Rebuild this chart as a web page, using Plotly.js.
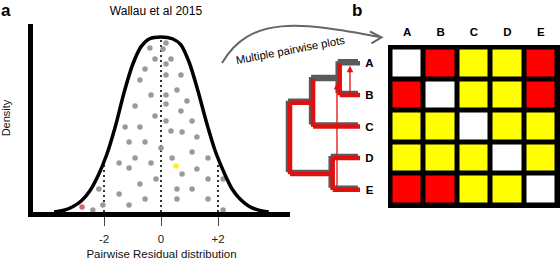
<!DOCTYPE html>
<html><head><meta charset="utf-8">
<script src="https://cdn.plot.ly/plotly-3.0.1.min.js"></script>
<style>html,body{margin:0;padding:0;background:#fff}#chart{width:560px;height:260px}</style>
</head><body><div id="chart"></div>
<script>
// ---- Panel a: pairwise residual distribution ----
const curveX = [-3.75,-3.4,-3.1,-2.8,-2.5,-2.2,-1.9,-1.6,-1.3,-1.0,-0.7,-0.4,0,0.4,0.7,1.0,1.3,1.6,1.9,2.2,2.5,2.8,3.1,3.4,3.78];
const curveY = [0,0.01,0.03,0.063,0.12,0.21,0.33,0.49,0.68,0.84,0.945,0.99,1.0,0.99,0.955,0.85,0.69,0.51,0.35,0.23,0.13,0.07,0.032,0.012,0];
const dotX = [-0.39,0.07,0.175,-0.21,0.175,0.35,-0.56,0.175,0.70,-0.74,-0.35,0.175,0.56,0.175,0.91,-0.91,0.70,-0.21,1.09,0.175,-1.26,-0.74,0.35,0.74,-1.12,-0.56,0,1.26,-0.91,-1.47,-0.35,-1.12,1.09,0.39,1.65,1.26,-0.175,-0.74,0.74,1.65,2.18,-2.18,-1.47,0.56,1.09,-0.56,0.56,1.65,-2.04,-1.12,-2.39,2.18];
const dotY = [0.937,0.931,0.966,0.874,0.846,0.874,0.817,0.783,0.783,0.754,0.669,0.669,0.697,0.617,0.634,0.606,0.577,0.549,0.52,0.52,0.486,0.486,0.463,0.457,0.40,0.40,0.366,0.429,0.309,0.28,0.28,0.251,0.343,0.309,0.309,0.246,0.189,0.16,0.217,0.189,0.189,0.131,0.103,0.131,0.131,0.074,0.074,0.074,0.04,0.04,0.011,0.011];
const redDotX = [-2.77], redDotY = [0.029];
const yellowDotX = [0.53], yellowDotY = [0.263];
const refX = [-2, 0, 2];
const refTop = [0.29, 0.99, 0.27];
const xTickVals = [-2, 0, 2];
const xTickText = ['-2', '0', '+2'];

// ---- Panel b: tree + pairwise matrix ----
const taxa = ['A','B','C','D','E'];
// 0 = self (white), 1 = yellow, 2 = red
const pairMatrix = [
  [0,2,1,1,2],
  [2,0,1,1,2],
  [1,1,0,1,1],
  [1,1,1,0,1],
  [2,2,1,1,0]
];
const treeNodes = ['root','ABC','AB','DE'];
const treeNodeDepth = [0, 0.33, 0.71, 0.61];
const treeParent = ['root','root','ABC','ABC','AB','AB','DE','DE'];
const treeChild  = ['ABC','DE','AB','C','A','B','D','E'];
const lostBranches = ['AB','A'];
const arrowX = [0.857, 0.671];
const arrowFrom = ['B','E'];
const arrowToY = [0.08, 0.62];

const FONT = 'Liberation Sans, Arial, sans-serif';
const W = 560, H = 260;
const px = v => v / W, py = v => 1 - v / H;

// tree geometry
const depth = {}, ypos = {};
treeNodes.forEach((n,i)=>depth[n]=treeNodeDepth[i]);
taxa.forEach((t,i)=>{depth[t]=1; ypos[t]=i;});
function getY(n){
  if (ypos[n] !== undefined) return ypos[n];
  const kids = treeChild.filter((c,i)=>treeParent[i]===n);
  const v = kids.map(getY).reduce((a,b)=>a+b,0)/kids.length;
  ypos[n] = v; return v;
}
treeNodes.forEach(getY);
const redX=[], redY=[], greyX=[], greyY=[], allX=[], allY=[];
treeNodes.forEach(n=>{
  const kids = treeChild.filter((c,i)=>treeParent[i]===n).map(c=>ypos[c]);
  const seg = [[depth[n],Math.min(...kids)],[depth[n],Math.max(...kids)]];
  redX.push(seg[0][0],seg[1][0],null); redY.push(seg[0][1],seg[1][1],null);
  allX.push(seg[0][0],seg[1][0],null); allY.push(seg[0][1],seg[1][1],null);
});
treeChild.forEach((c,i)=>{
  const p = treeParent[i];
  const xs=[depth[p],depth[c],null], ys=[ypos[c],ypos[c],null];
  if (lostBranches.includes(c)) { greyX.push(...xs); greyY.push(...ys); }
  else { redX.push(...xs); redY.push(...ys); }
  allX.push(...xs); allY.push(...ys);
});
const sdx = -2/70, sdy = -2/31.6;
const shX = allX.map(v=>v===null?null:v+sdx), shY = allY.map(v=>v===null?null:v+sdy);

const refLX=[], refLY=[];
refX.forEach((x,i)=>{refLX.push(x,x,null); refLY.push(0,refTop[i],null);});

const traces = [
  {type:'scatter', mode:'lines', x:refLX, y:refLY, xaxis:'x', yaxis:'y',
   line:{color:'#333', width:2, dash:'2px,3px'}, hoverinfo:'skip'},
  {type:'scatter', mode:'markers', x:dotX, y:dotY, xaxis:'x', yaxis:'y',
   marker:{color:'#9a9a9a', size:5.5}, hoverinfo:'skip'},
  {type:'scatter', mode:'markers', x:redDotX, y:redDotY, marker:{color:'#dc6470', size:5.5}, hoverinfo:'skip'},
  {type:'scatter', mode:'markers', x:yellowDotX, y:yellowDotY, marker:{color:'#ffee22', size:5.5}, hoverinfo:'skip'},
  {type:'scatter', mode:'lines', x:curveX, y:curveY, line:{color:'#000', width:3.5, shape:'spline', smoothing:0.8}, hoverinfo:'skip'},
  {type:'heatmap', z:pairMatrix, x:[0,1,2,3,4], y:[0,1,2,3,4], xaxis:'x2', yaxis:'y2',
   zmin:0, zmax:2, colorscale:[[0,'#ffffff'],[0.5,'#ffff00'],[1,'#ff0000']],
   showscale:false, xgap:5, ygap:5, hoverinfo:'skip'},
  {type:'scatter', mode:'lines', x:shX, y:shY, xaxis:'x3', yaxis:'y2',
   line:{color:'#5a5a5a', width:4.5}, hoverinfo:'skip'},
  {type:'scatter', mode:'lines', x:greyX, y:greyY, xaxis:'x3', yaxis:'y2',
   line:{color:'#5a5a5a', width:4.5}, hoverinfo:'skip'},
  {type:'scatter', mode:'lines', x:redX, y:redY, xaxis:'x3', yaxis:'y2',
   line:{color:'#e01010', width:4.5}, hoverinfo:'skip'}
];

const annotations = [
  {xref:'paper', yref:'paper', x:px(6), y:py(11), xanchor:'center', yanchor:'middle', text:'<b>a</b>', showarrow:false,
   font:{family:FONT, size:17, color:'#000'}},
  {xref:'paper', yref:'paper', x:px(357), y:py(11), xanchor:'center', yanchor:'middle', text:'<b>b</b>', showarrow:false,
   font:{family:FONT, size:17, color:'#000'}},
  {xref:'paper', yref:'paper', x:px(290), y:py(50), xanchor:'center', yanchor:'middle', text:'Multiple pairwise plots', showarrow:false,
   textangle:-10.7, font:{family:FONT, size:11.3, color:'#000'}}
];
arrowX.forEach((x,i)=>{
  annotations.push({xref:'x3', yref:'y2', axref:'x3', ayref:'y2', x:x, y:arrowToY[i],
    ax:x, ay:ypos[arrowFrom[i]], text:'', showarrow:true, arrowhead:2, arrowsize:1,
    arrowwidth:1.3, arrowcolor:'#e01010'});
});

const layout = {
  width:W, height:H, margin:{l:0,r:0,t:0,b:0}, showlegend:false,
  paper_bgcolor:'#fff', plot_bgcolor:'rgba(0,0,0,0)',
  font:{family:FONT, color:'#000'},
  title:{text:'Wallau et al 2015', x:px(156), y:py(11), xanchor:'center', yanchor:'middle',
    font:{family:FONT, size:12, color:'#000'}},
  xaxis:{domain:[px(33), px(290)], range:[(33-161)/28.5, (290-161)/28.5], anchor:'y',
    showline:true, linewidth:5, linecolor:'#000', showgrid:false, zeroline:false,
    tickvals:xTickVals, ticktext:xTickText, ticks:'outside', ticklen:9, tickwidth:1, tickcolor:'#444',
    ticklabelstandoff:3,
    tickfont:{family:FONT, size:11.5, color:'#222'},
    title:{text:'Pairwise Residual distribution', font:{family:FONT, size:11.5, color:'#111'}, standoff:8}},
  yaxis:{domain:[1-212/H, 1-24/H], range:[0, 188/175], anchor:'x',
    showline:true, linewidth:5, linecolor:'#000', showgrid:false, zeroline:false,
    showticklabels:false, ticks:'',
    title:{text:'Density', font:{family:FONT, size:11, color:'#111'}, standoff:19}},
  xaxis2:{domain:[px(390.5), px(557.5)], range:[-0.5,4.5], anchor:'y2', side:'top',
    showgrid:false, zeroline:false, showline:false, ticks:'',
    tickvals:[0,1,2,3,4], ticktext:taxa, ticklabelstandoff:8,
    tickfont:{family:FONT, size:11.5, color:'#000', weight:'bold'}},
  yaxis2:{domain:[1-205.5/H, 1-47.5/H], range:[4.5,-0.5], anchor:'x2',
    showgrid:false, zeroline:false, showline:false, ticks:'',
    tickvals:[0,1,2,3,4], ticktext:taxa, ticklabelstandoff:16,
    tickfont:{family:FONT, size:11.5, color:'#000', weight:'bold'}},
  xaxis3:{domain:[px(285), px(365)], range:[-5/70, 75/70], anchor:'y2', visible:false},
  shapes:[
    {type:'rect', xref:'paper', yref:'paper', x0:px(388), x1:px(560), y0:py(208), y1:py(45),
     fillcolor:'#000', line:{width:0}, layer:'below'},
    {type:'path', xref:'paper', yref:'paper',
     path:`M ${px(222)},${py(63)} C ${px(250)},${py(15)} ${px(300)},${py(22)} ${px(380)},${py(37)}`,
     line:{color:'#666', width:2}},
    {type:'path', xref:'paper', yref:'paper',
     path:`M ${px(370)},${py(31.5)} L ${px(381.5)},${py(37.3)} L ${px(371.5)},${py(43.3)}`,
     line:{color:'#666', width:2}}
  ],
  annotations:annotations
};
Plotly.newPlot('chart', traces, layout, {staticPlot:true, displayModeBar:false});
</script></body></html>
